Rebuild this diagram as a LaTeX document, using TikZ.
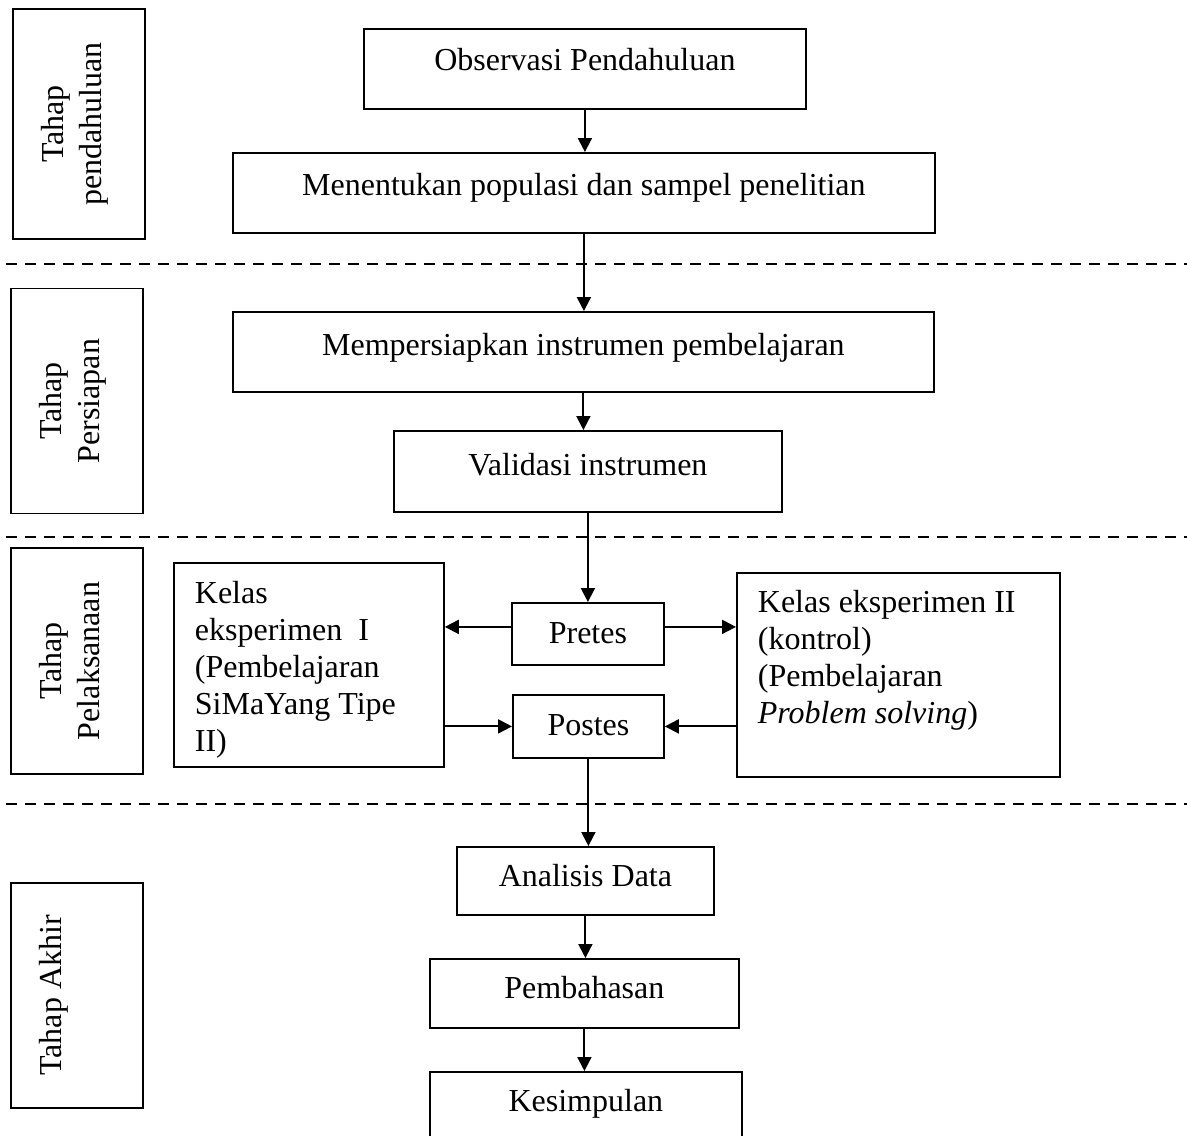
\documentclass[tikz,border=0pt]{standalone}
\usepackage{fontspec}
\setmainfont{Liberation Serif}
\usetikzlibrary{arrows.meta}

\begin{document}
\begin{tikzpicture}[x=0.5pt,y=-0.5pt,font={\fontsize{16pt}{18.5pt}\selectfont},
	box/.style={draw,line width=0.9pt,inner sep=0pt,anchor=north west},
	phase/.style={draw,line width=0.9pt,inner sep=0pt,rotate=90},
	flow/.style={-{Triangle[length=7pt,width=7pt]},line width=1pt},
	sep/.style={dash pattern=on 5.5pt off 4pt,line width=1.1pt}]
			\useasboundingbox (0,0) rectangle (1187,1135);
			\clip (0,0) rectangle (1187,1135);
			% tahap (left column)
			\node[phase](thpend) at (79,124) {\parbox[t][66pt][t]{115pt}{\centering\rule{0pt}{25pt}Tahap\\[0.5pt]pendahuluan}};
			\node[phase](thpers) at (77,401) {\parbox[t][66pt][t]{112.5pt}{\centering\rule{0pt}{25pt}Tahap\\[0.5pt]Persiapan}};
			\node[phase](thpel) at (77,661) {\parbox[t][66pt][t]{113pt}{\centering\rule{0pt}{25pt}Tahap\\[0.5pt]Pelaksanaan}};
			\node[phase](thakh) at (77,995.5) {\parbox[t][66pt][t]{112.5pt}{\centering\rule{0pt}{25pt}Tahap Akhir}};
			% langkah
			\node[box,minimum width=221pt,text height=21pt,text depth=19pt](obs) at (363,28) {Observasi Pendahuluan};
			\node[box,minimum width=351pt,text height=21.5pt,text depth=18.5pt](popsam) at (232,152) {Menentukan populasi dan sampel penelitian};
			\node[box,minimum width=350.5pt,text height=22pt,text depth=18pt](prepins) at (232,311) {Mempersiapkan instrumen pembelajaran};
			\node[box,minimum width=194pt,text height=22.5pt,text depth=18pt](valins) at (393,430) {Validasi instrumen};
			\node[box,minimum width=76pt,text height=20.5pt,text depth=10.5pt](pretes) at (511,602) {Pretes};
			\node[box,minimum width=75.5pt,text height=20.5pt,text depth=11pt](postes) at (512,694) {Postes};
			\node[box,inner xsep=10.5pt](eks1) at (173,562) {\parbox[t][102pt][t]{114pt}{\rule{0pt}{20.5pt}Kelas\\eksperimen\ \ I\\(Pembelajaran\\SiMaYang Tipe\\II)}};
			\node[box,inner xsep=10.5pt](eks2) at (736,572) {\parbox[t][102pt][t]{140.5pt}{\rule{0pt}{20pt}Kelas eksperimen II\\(kontrol)\\(Pembelajaran\\\textit{Problem solving})}};
			\node[box,minimum width=128.5pt,text height=20pt,text depth=14pt](analisis) at (456,846) {Analisis Data};
			\node[box,minimum width=154.5pt,text height=20pt,text depth=14.5pt](bahas) at (429,958) {Pembahasan};
			\node[box,minimum width=156pt,text height=20pt,text depth=20pt](simpul) at (429,1071) {Kesimpulan};
			% garis batas tahap
			\foreach \y in {264,537,804}
				\draw[sep] (6,\y) -- (1187,\y);
			\path[flow]
			(obs.south) edge (obs.south |- popsam.north)
			(popsam.south) edge (popsam.south |- prepins.north)
			(prepins.south) edge (prepins.south |- valins.north)
			(valins.south) edge (valins.south |- pretes.north)
			([yshift=3.5pt]pretes.west) edge ([yshift=3.5pt]pretes.west -| eks1.east)
			([yshift=3.5pt]pretes.east) edge ([yshift=3.5pt]pretes.east -| eks2.west)
			(eks1.east |- postes.west) edge (postes.west)
			(eks2.west |- postes.east) edge (postes.east)
			(postes.south) edge (postes.south |- analisis.north)
			(analisis.south) edge (analisis.south |- bahas.north)
			(bahas.south) edge (bahas.south |- simpul.north);
\end{tikzpicture}
\end{document}
